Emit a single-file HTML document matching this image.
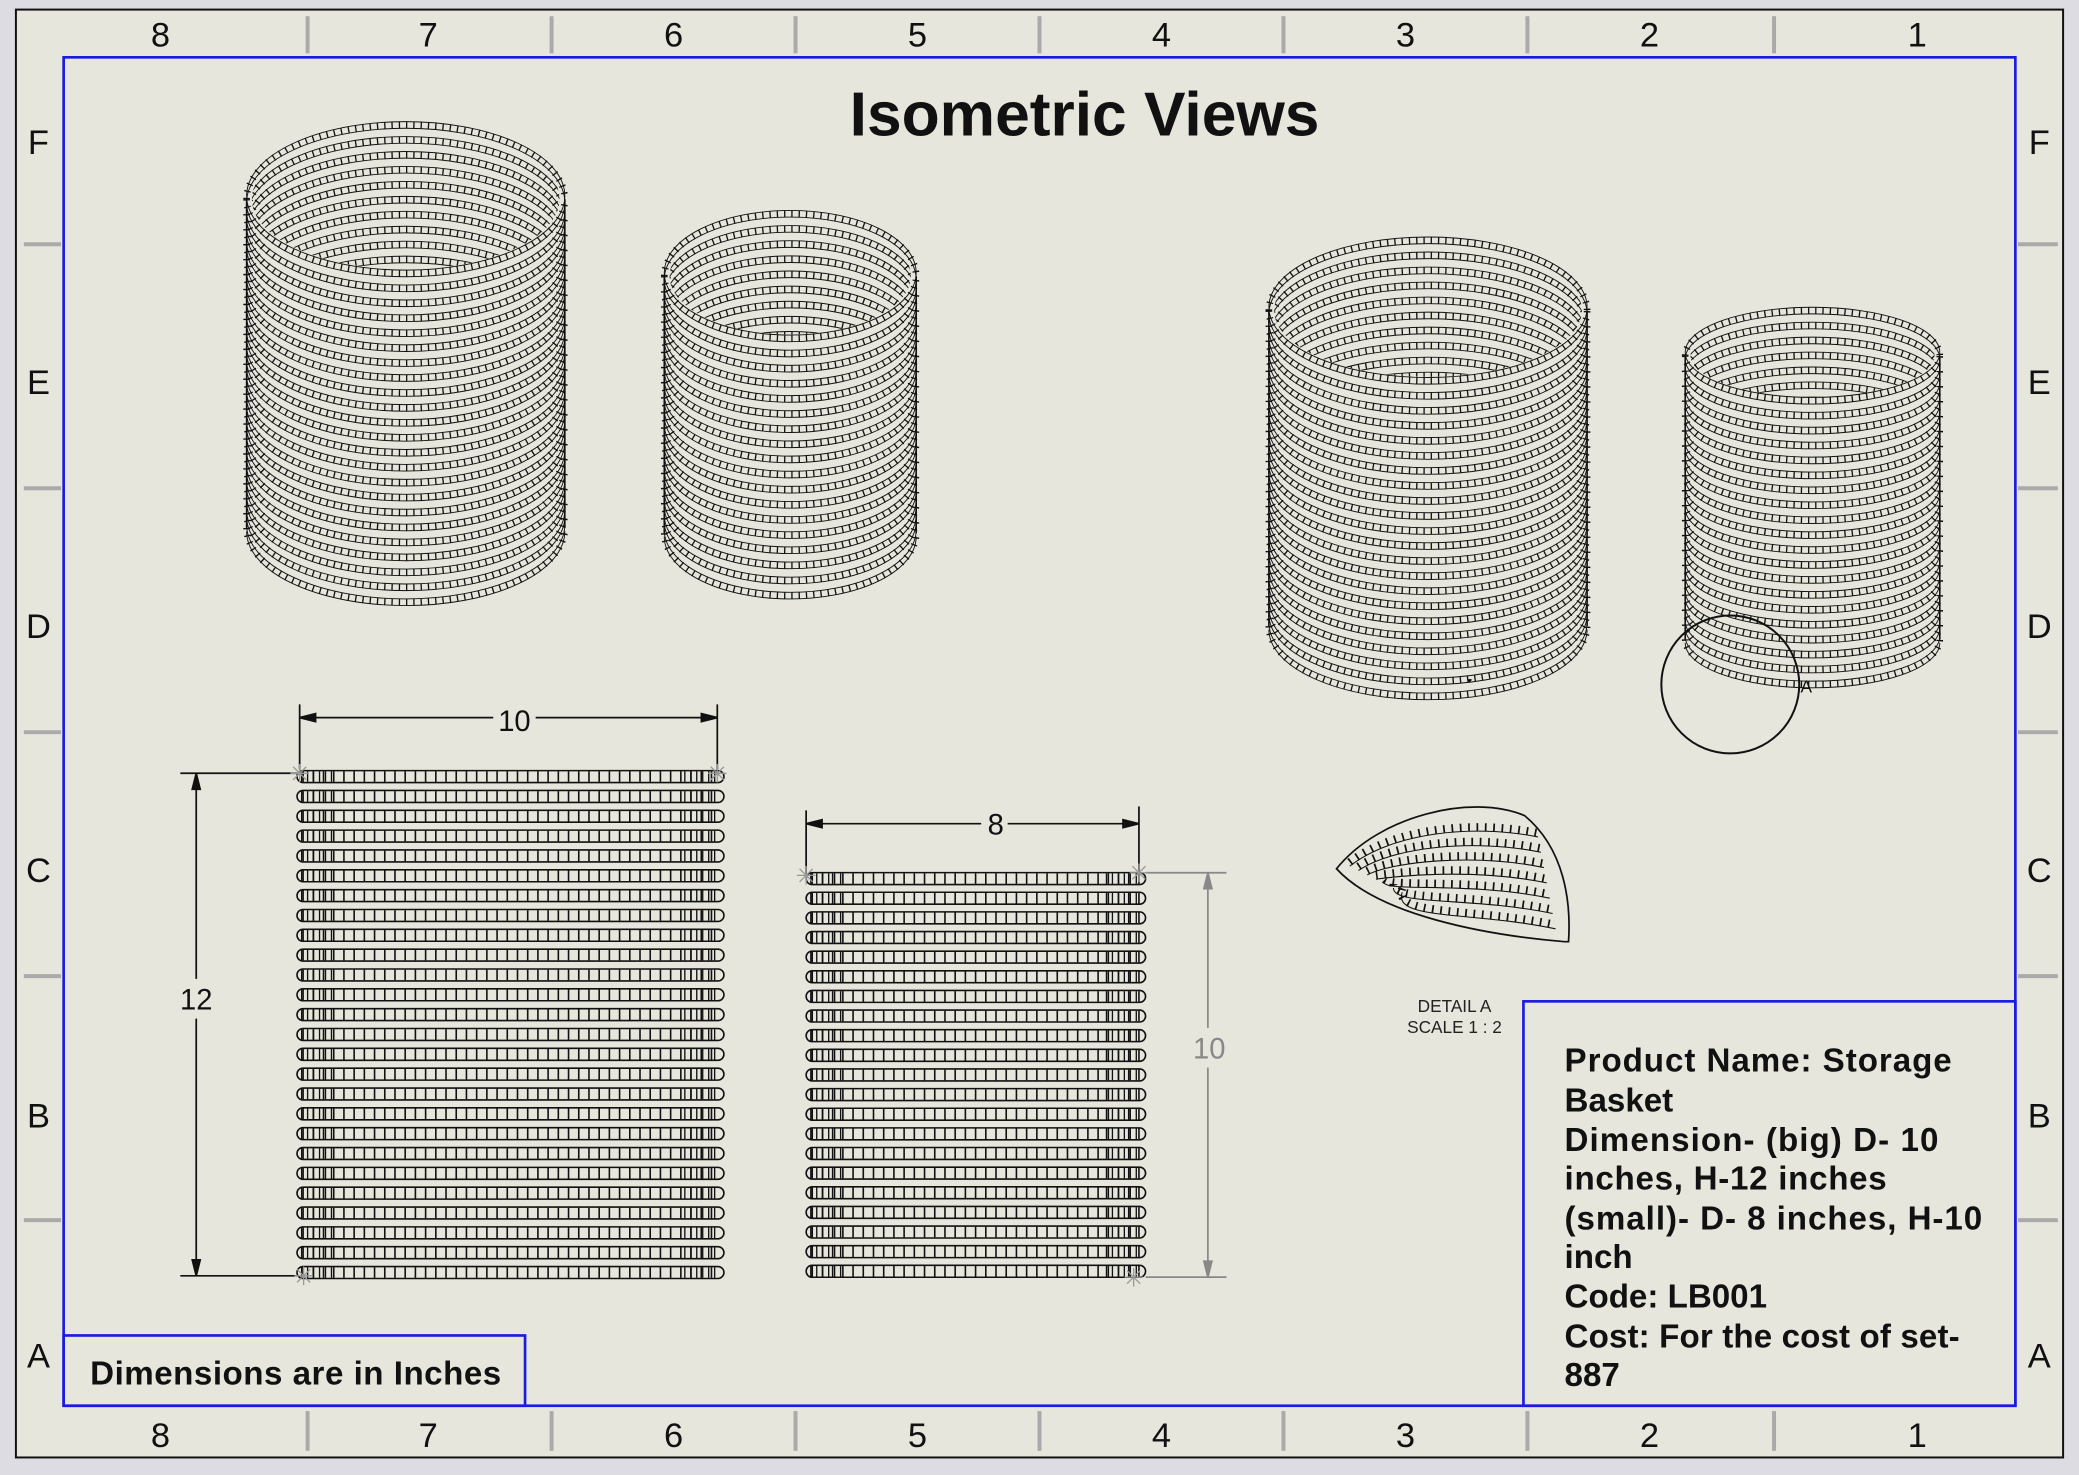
<!DOCTYPE html>
<html><head><meta charset="utf-8"><style>
html,body{margin:0;padding:0;background:#dcdce2;}
svg{display:block}
text{font-family:"Liberation Sans",sans-serif;}
</style></head><body>
<svg id="s" width="2079" height="1475" viewBox="0 0 1568 1112" xmlns="http://www.w3.org/2000/svg">
<rect x="0" y="0" width="1568" height="1112" fill="#dcdce2"/>
<rect x="12" y="7" width="1544" height="1092" fill="#e6e6dc" stroke="#111" stroke-width="1.5"/>
<rect x="48" y="43" width="1472" height="1017" fill="none" stroke="#1a1ae0" stroke-width="2"/>
<g id="zones" stroke="#aaa" stroke-width="3"></g>
<g font-size="26" fill="#111" text-anchor="middle" id="zl"></g>
<text x="818" y="102" font-size="47" font-weight="bold" text-anchor="middle" fill="#111">Isometric Views</text>
<g id="art" fill="none" stroke="#111"></g>
<circle cx="1305" cy="516" r="52" fill="none" stroke="#111" stroke-width="1.5"/>
<text x="1358" y="522" font-size="13" fill="#111">A</text>
<text x="1097" y="763" font-size="13" text-anchor="middle" fill="#222">DETAIL A</text>
<text x="1097" y="779" font-size="13" text-anchor="middle" fill="#222">SCALE 1 : 2</text>
<g stroke="#111" stroke-width="1.3" fill="#111">
<line x1="226" y1="531" x2="226" y2="580"/><line x1="541" y1="531" x2="541" y2="580"/>
<line x1="226" y1="541" x2="372" y2="541"/><line x1="404" y1="541" x2="541" y2="541"/>
<polygon points="226,541 238,538 238,544"/><polygon points="541,541 529,538 529,544"/>
<line x1="136" y1="583" x2="224" y2="583"/><line x1="136" y1="962" x2="224" y2="962"/>
<line x1="148" y1="583" x2="148" y2="738"/><line x1="148" y1="768" x2="148" y2="962"/>
<polygon points="148,583 145,595 151,595"/><polygon points="148,962 145,950 151,950"/>
<line x1="608" y1="611" x2="608" y2="660"/><line x1="859" y1="608" x2="859" y2="660"/>
<line x1="608" y1="621" x2="740" y2="621"/><line x1="760" y1="621" x2="859" y2="621"/>
<polygon points="608,621 620,618 620,624"/><polygon points="859,621 847,618 847,624"/>
</g>
<g stroke="#888" stroke-width="1.3" fill="#888">
<line x1="864" y1="658" x2="925" y2="658"/><line x1="864" y1="963" x2="925" y2="963"/>
<line x1="911" y1="658" x2="911" y2="775"/><line x1="911" y1="805" x2="911" y2="963"/>
<polygon points="911,658 908,670 914,670"/><polygon points="911,963 908,951 914,951"/>
</g>
<text x="388" y="551" font-size="22" text-anchor="middle" fill="#111">10</text>
<text x="148" y="761" font-size="22" text-anchor="middle" fill="#111">12</text>
<text x="751" y="629" font-size="22" text-anchor="middle" fill="#111">8</text>
<text x="912" y="798" font-size="22" text-anchor="middle" fill="#888">10</text>
<g stroke="#999" stroke-width="1" id="stars"></g>
<rect x="1149" y="755" width="371" height="305" fill="none" stroke="#1a1ae0" stroke-width="2"/>
<g font-size="25" font-weight="bold" fill="#111">
<text x="1180" y="808" textLength="292">Product Name: Storage</text>
<text x="1180" y="838">Basket</text>
<text x="1180" y="868" textLength="282">Dimension- (big) D- 10</text>
<text x="1180" y="897" textLength="243">inches, H-12 inches</text>
<text x="1180" y="927" textLength="315">(small)- D- 8 inches, H-10</text>
<text x="1180" y="956">inch</text>
<text x="1180" y="986">Code: LB001</text>
<text x="1180" y="1016" textLength="298">Cost: For the cost of set-</text>
<text x="1180" y="1045">887</text>
</g>
<rect x="48" y="1007" width="348" height="53" fill="none" stroke="#1a1ae0" stroke-width="2"/>
<text x="68" y="1044" font-size="25" font-weight="bold" fill="#111" textLength="310">Dimensions are in Inches</text>
</svg>
<script>
var NS="http://www.w3.org/2000/svg";
function el(p,t,a){var e=document.createElementNS(NS,t);for(var k in a)e.setAttribute(k,a[k]);p.appendChild(e);return e;}
var z=document.getElementById('zones'),zl=document.getElementById('zl');
[232,416,600,784,968,1152,1338].forEach(function(x){el(z,'line',{x1:x,y1:12,x2:x,y2:40});el(z,'line',{x1:x,y1:1064,x2:x,y2:1094});});
[184,368,552,736,920].forEach(function(y){el(z,'line',{x1:18,y1:y,x2:46,y2:y});el(z,'line',{x1:1522,y1:y,x2:1552,y2:y});});
var nx=[121,323,508,692,876,1060,1244,1446];
nx.forEach(function(x,i){var t=el(zl,'text',{x:x,y:35});t.textContent=8-i;t=el(zl,'text',{x:x,y:1091});t.textContent=8-i;});
var L=['F','E','D','C','B','A'],ly=[116,297,481,665,850,1031];
L.forEach(function(c,i){var t=el(zl,'text',{x:29,y:ly[i]});t.textContent=c;t=el(zl,'text',{x:1538,y:ly[i]});t.textContent=c;});
var art=document.getElementById('art');
var cid=0;
function cyl(cx,rx,ry,top,bot,n){
  cid++;var defs=el(art,'defs',{});var cp=el(defs,'clipPath',{id:'c'+cid});
  el(cp,'ellipse',{cx:cx,cy:top,rx:rx-4,ry:ry-3});
  for(var i=0;i<n;i++){
    var cy=top+(bot-top)*i/(n-1);
    var front='M'+(cx-rx)+','+cy+' A'+rx+','+ry+' 0 0 0 '+(cx+rx)+','+cy;
    var back='M'+(cx-rx)+','+cy+' A'+rx+','+ry+' 0 0 1 '+(cx+rx)+','+cy;
    var g=(i==0)?art:el(art,'g',{'clip-path':'url(#c'+cid+')'});
    [front,back].forEach(function(d,j){
      var gg=(j==0)?art:g;
      el(gg,'path',{d:d,'stroke-width':5,'stroke-dasharray':'1 4.5',stroke:'#111'});
      el(gg,'path',{d:d,'stroke-width':0.7,transform:'translate(0,-2.5)'});
      el(gg,'path',{d:d,'stroke-width':0.7,transform:'translate(0,2.5)'});
    });
  }
  el(art,'line',{x1:cx-rx,y1:top,x2:cx-rx,y2:bot,'stroke-width':1.2});
  el(art,'line',{x1:cx+rx,y1:top,x2:cx+rx,y2:bot,'stroke-width':1.2});
}
cyl(306,120,56,150,398,23);
cyl(596,95,47,208,402,18);
cyl(1077,120,53,234,472,22);
cyl(1367,96,34,268,482,20);
function front(x1,x2,y1,y2,n){
  var h=(y2-y1)/n;
  for(var i=0;i<n;i++){
    var y=y1+i*h+h/2;
    el(art,'rect',{x:x1,y:y-4.5,width:x2-x1,height:9,rx:4.5,'stroke-width':1.2});
    el(art,'line',{x1:x1+4,y1:y,x2:x2-4,y2:y,'stroke-width':8,'stroke-dasharray':'1.2 6.5',stroke:'#111'});
    el(art,'line',{x1:x1+3,y1:y,x2:x1+30,y2:y,'stroke-width':8,'stroke-dasharray':'1 3.5',stroke:'#111'});
    el(art,'line',{x1:x2-30,y1:y,x2:x2-3,y2:y,'stroke-width':8,'stroke-dasharray':'1 3.5',stroke:'#111'});
  }
}
front(224,546,578,967,26);
front(608,864,655,966,21);
var st=document.getElementById('stars');
[[226,583],[541,583],[229,962],[608,660],[859,658],[855,963]].forEach(function(p){
  for(var a=0;a<4;a++){var an=a*Math.PI/4,dx=7*Math.cos(an),dy=7*Math.sin(an);
  el(st,'line',{x1:p[0]-dx,y1:p[1]-dy,x2:p[0]+dx,y2:p[1]+dy});}
});
var dp=el(art,'g',{});
el(dp,'path',{d:'M1008,655 C1040,615 1110,598 1150,615 C1180,640 1185,680 1183,710 L1180,710 C1120,705 1040,690 1008,655 Z','stroke-width':1.3});
for(var k=0;k<7;k++){
  var o=k*11;
  var d='M'+(1018+o*0.6)+','+(650+o*0.3)+' C1050,'+(625+o)+' 1110,'+(618+o)+' '+(1160+o*0.2)+','+(628+o*1.05);
  el(dp,'path',{d:d,'stroke-width':6,'stroke-dasharray':'1.3 5',stroke:'#111'});
  el(dp,'path',{d:d,'stroke-width':0.8,transform:'translate(0,3)'});
}
</script>
</body></html>
